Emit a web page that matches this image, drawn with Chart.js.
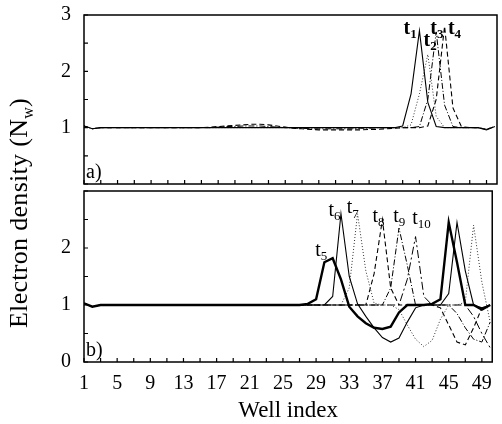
<!DOCTYPE html>
<html>
<head>
<meta charset="utf-8">
<script src="https://cdn.jsdelivr.net/npm/chart.js@4.4.0/dist/chart.umd.min.js"></script>
<style>
  body { margin: 0; background: #fff; width: 502px; height: 424px; overflow: hidden; position: relative; font-family: "Liberation Serif", serif; }
  #wrapA { position: absolute; left: 0; top: -10px; }
  #wrapB { position: absolute; left: 0; top: 166px; }
  #ytitle { position: absolute; left: -131px; top: 198px; width: 300px; height: 30px; line-height: 30px; text-align: center; font-size: 26px; letter-spacing: 0.3px; transform: rotate(-90deg); color: #000; white-space: nowrap; }
  #ytitle sub { font-size: 16px; }
</style>
</head>
<body>
<div id="wrapA"><canvas id="chartA" width="502" height="219"></canvas></div>
<div id="wrapB"><canvas id="chartB" width="502" height="259"></canvas></div>
<div id="ytitle">Electron density (N<sub>w</sub>)</div>
<script>
// well index 1..50
const wells = [1,2,3,4,5,6,7,8,9,10, 11,12,13,14,15,16,17,18,19,20, 21,22,23,24,25,26,27,28,29,30, 31,32,33,34,35,36,37,38,39,40, 41,42,43,44,45,46,47,48,49,50];
const xTicks = [1,3,5,7,9,11,13,15,17,19,21,23,25,27,29,31,33,35,37,39,41,43,45,47,49];

// panel a) times t1..t4
const aT1 = [1.03,0.98,1,1,1,1,1,1,1,1, 1,1,1,1,1,1,1,1,1,1, 1,1,1,1,1,1,1,1,1,1, 1,1,1,1,1,1,1,1,1.03,1.6, 2.72,1.45,1.02,1,1,1,1,1,0.96,1.02];
const aT2 = [1.03,0.98,1,1,1,1,1,1,1,1, 1,1,1,1,1,1,1,1,1,1, 1,1,1,1,1,1,1,1,1,1, 1,1,1,1,1,1,1,1,1,1.05, 1.6,2.3,1.2,1,1,1,1,1,0.97,1.02];
const aT3 = [1.03,0.98,1,1,1,1,1,1,1,1, 1,1,1,1,1,1,1.01,1.02,1.02,1.03, 1.03,1.03,1.02,1.01,1,0.99,0.99,0.98,0.98,0.98, 0.98,0.98,0.98,0.99,0.99,1,1,1,1,1, 1.02,1.5,2.7,1.4,1.02,1,1,1,0.97,1.02];
const aT4 = [1.03,0.98,1,1,1,1,1,1,1,1, 1,1,1,1,1,1.01,1.02,1.03,1.04,1.05, 1.06,1.06,1.05,1.03,1.01,0.99,0.98,0.97,0.96,0.96, 0.96,0.96,0.96,0.96,0.97,0.97,0.98,0.99,1,1, 1,1.03,1.5,2.8,1.35,1.02,1,1,0.97,1.02];

// panel b) times t5..t10
const bT5 = [1.03,0.97,1,1,1,1,1,1,1,1, 1,1,1,1,1,1,1,1,1,1, 1,1,1,1,1,1,1,1.02,1.1,1.75, 1.82,1.45,0.97,0.8,0.68,0.6,0.58,0.62,0.87,1, 1,1,1.02,1.1,2.45,1.75,1,1,0.92,1];
const bT6 = [1.03,0.97,1,1,1,1,1,1,1,1, 1,1,1,1,1,1,1,1,1,1, 1,1,1,1,1,1,1,1,1,1, 1.15,2.6,1.5,1.02,0.8,0.6,0.43,0.35,0.42,0.7, 0.95,1,1,1,1.2,2.45,1.6,1,0.95,1];
const bT7 = [1.03,0.97,1,1,1,1,1,1,1,1, 1,1,1,1,1,1,1,1,1,1, 1,1,1,1,1,1,1,1,1,1, 1,1,1.3,2.6,1.6,1.03,1,1,0.92,0.65, 0.4,0.27,0.38,0.75,1,1,1.05,2.4,1.4,0.7];
const bT8 = [1.03,0.97,1,1,1,1,1,1,1,1, 1,1,1,1,1,1,1,1,1,1, 1,1,1,1,1,1,1,1,1,1, 1,1,1,1,1,1.55,2.5,1.3,1,1, 1,1,1,0.95,0.65,0.35,0.3,0.6,0.95,1];
const bT9 = [1.03,0.97,1,1,1,1,1,1,1,1, 1,1,1,1,1,1,1,1,1,1, 1,1,1,1,1,1,1,1,1,1, 1,1,1,1,1,1,1,1.3,2.35,1.7, 1,1,1,1,1,0.85,0.6,0.4,0.35,0.7];
const bT10 = [1.03,0.97,1,1,1,1,1,1,1,1, 1,1,1,1,1,1,1,1,1,1, 1,1,1,1,1,1,1,1,1,1, 1,1,1,1,1,1,1,1,1,1.45, 2.2,1.15,1,1,1,1,1,0.8,0.5,0.25];

// curve labels (subscript index, anchor in well / density units)
const labelsA = [['1', 39.1, 2.75], ['2', 41.5, 2.54], ['3', 42.3, 2.75], ['4', 44.4, 2.75]];
const labelsB = [['5', 28.9, 1.95], ['6', 30.5, 2.66], ['7', 32.7, 2.7], ['8', 35.8, 2.55], ['9', 38.3, 2.55], ['10', 40.6, 2.52]];

function series(vals, dash, width, color) {
  return {
    data: wells.map((w, i) => ({ x: w, y: vals[i] })),
    borderColor: color || '#000',
    borderWidth: width || 1,
    borderDash: dash || [],
    pointRadius: 0,
    tension: 0,
    fill: false
  };
}

const framePlugin = {
  id: 'frame',
  afterDraw(chart, args, opts) {
    const ctx = chart.ctx;
    const a = chart.chartArea;
    const xs = chart.scales.x, ys = chart.scales.y;
    ctx.save();
    ctx.strokeStyle = '#000';
    ctx.lineWidth = 1.5;
    ctx.strokeRect(a.left, a.top, a.right - a.left, a.bottom - a.top);
    // inward tick marks
    ctx.lineWidth = 1.2;
    ctx.beginPath();
    xs.ticks.forEach(t => {
      const px = xs.getPixelForValue(t.value);
      ctx.moveTo(px, a.bottom);
      ctx.lineTo(px, a.bottom - 4);
    });
    ys.ticks.forEach(t => {
      const py = ys.getPixelForValue(t.value);
      ctx.moveTo(a.left, py);
      ctx.lineTo(a.left + 4, py);
    });
    ctx.stroke();
    // curve labels
    ctx.fillStyle = '#000';
    ctx.textBaseline = 'middle';
    ctx.textAlign = 'left';
    (opts.labels || []).forEach(l => {
      const px = xs.getPixelForValue(l[1]);
      const py = ys.getPixelForValue(l[2]);
      ctx.font = opts.weight + ' 20px "Liberation Serif"';
      ctx.fillText('t', px, py);
      const w = ctx.measureText('t').width;
      ctx.font = opts.weight + ' 13px "Liberation Serif"';
      ctx.fillText(l[0], px + w, py + 6);
    });
    // panel tag
    ctx.font = '20px "Liberation Serif"';
    ctx.textBaseline = 'alphabetic';
    ctx.fillText(opts.tag, a.left + 2, a.bottom - 6);
    ctx.restore();
  }
};

function makeChart(id, datasets, opts) {
  return new Chart(document.getElementById(id).getContext('2d'), {
    type: 'line',
    data: { datasets: datasets },
    options: {
      responsive: false,
      animation: false,
      layout: { padding: { top: 0, right: 5, left: 0, bottom: 0 } },
      plugins: {
        legend: { display: false },
        tooltip: { enabled: false },
        frame: { labels: opts.labels, tag: opts.tag, weight: opts.weight }
      },
      scales: {
        x: {
          type: 'linear', min: 1, max: 50.25,
          grid: { display: false, drawTicks: false },
          border: { display: false },
          afterBuildTicks: s => { s.ticks = xTicks.map(v => ({ value: v })); },
          ticks: {
            display: opts.showX, autoSkip: false, maxRotation: 0,
            padding: 10, color: '#000', font: { family: 'Liberation Serif', size: 20 },
            callback: v => ((v - 1) % 4 === 0 ? String(v) : '')
          },
          title: {
            display: opts.showX, text: 'Well index', color: '#000',
            font: { family: 'Liberation Serif', size: 23 }, padding: { top: 4, bottom: 0 }
          },
          afterFit: s => { s.height = opts.xHeight; }
        },
        y: {
          min: 0, max: 3,
          grid: { display: false, drawTicks: false },
          border: { display: false },
          ticks: {
            stepSize: 0.5, autoSkip: false, padding: 13, color: '#000',
            font: { family: 'Liberation Serif', size: 20 },
            callback: opts.yLabel
          },
          afterFit: s => { s.width = 84; }
        }
      }
    },
    plugins: [framePlugin]
  });
}

makeChart('chartA', [
  series(aT1, [], 1.1),
  series(aT2, [1, 2], 1, '#333'),
  series(aT3, [6, 2, 1, 2], 1),
  series(aT4, [5, 3], 1.1)
], {
  xHeight: 0, showX: false, labels: labelsA, tag: 'a)', weight: 'bold',
  yLabel: v => (v % 1 === 0 && v > 0 ? String(v) : '')
});

makeChart('chartB', [
  series(bT5, [], 2.4),
  series(bT6, [], 1.1),
  series(bT7, [1, 2], 1, '#333'),
  series(bT8, [5, 3], 1.1),
  series(bT9, [6, 2, 1, 2], 1),
  series(bT10, [8, 3, 2, 3], 1)
], {
  xHeight: 63, showX: true, labels: labelsB, tag: 'b)', weight: 'normal',
  yLabel: v => (v % 1 === 0 && v < 3 ? String(v) : '')
});
</script>
</body>
</html>
